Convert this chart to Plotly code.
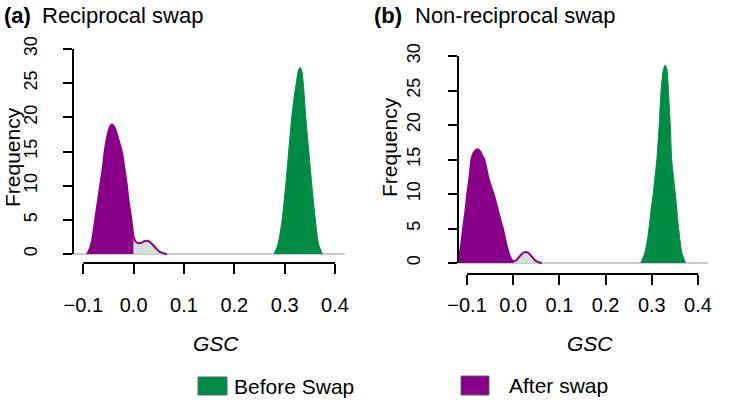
import plotly.graph_objects as go

W, H = 736, 409

# ---------------- data ----------------
panel_titles = ["Reciprocal swap", "Non-reciprocal swap"]
panel_tags = ["(a)", "(b)"]
legend_labels = ["Before Swap", "After swap"]
x_tick_vals = [-0.1, 0.0, 0.1, 0.2, 0.3, 0.4]
x_tick_text = ["\u22120.1", "0.0", "0.1", "0.2", "0.3", "0.4"]
y_tick_vals = [0, 5, 10, 15, 20, 25, 30]

# panel (a) reciprocal swap
a_before_x = [0.279, 0.287, 0.295, 0.302, 0.308, 0.314, 0.319, 0.323, 0.327, 0.331,
              0.334, 0.337, 0.342, 0.348, 0.354, 0.361, 0.367, 0.375]
a_before_y = [0, 1.5, 5, 10, 15, 20, 23, 25, 26.8, 27.3, 26.8, 25, 20, 15, 10, 5, 1.5, 0]
a_after_x = [-0.093, -0.088, -0.083, -0.077, -0.072, -0.067, -0.062, -0.058, -0.052,
             -0.047, -0.043, -0.038, -0.033, -0.028, -0.023, -0.018, -0.013, -0.010,
             -0.004, 0.0]
a_after_y = [0, 0.7, 2, 5, 7.5, 10, 12.5, 15, 17.5, 18.7, 19, 18.6, 17.6, 16.3, 15,
             12.6, 10, 8, 5, 2.5]
a_tail_x = [0.0, 0.004, 0.009, 0.013, 0.018, 0.022, 0.027, 0.031, 0.036, 0.041, 0.046,
            0.051, 0.056, 0.061, 0.066]
a_tail_y = [2.5, 1.8, 1.6, 1.6, 1.75, 1.9, 1.95, 1.8, 1.5, 1.1, 0.7, 0.35, 0.2, 0.08, 0]

# panel (b) non-reciprocal swap
b_before_x = [0.276, 0.285, 0.292, 0.298, 0.303, 0.307, 0.311, 0.316, 0.320, 0.325,
              0.329, 0.333, 0.336, 0.340, 0.343, 0.347, 0.351, 0.358, 0.365, 0.373]
b_before_y = [0, 1.5, 4, 7.5, 10, 12.5, 15, 20, 25, 28, 28.7, 28, 25, 20, 15, 12.5, 10,
              5, 1.5, 0]
b_after_x = [-0.121, -0.117, -0.113, -0.109, -0.104, -0.100, -0.095, -0.091, -0.086,
             -0.081, -0.076, -0.071, -0.066, -0.062, -0.057, -0.052, -0.047, -0.042,
             -0.037, -0.032, -0.027, -0.022, -0.017, -0.012, -0.007, -0.002, 0.002]
b_after_y = [0, 1, 2.8, 5, 7.5, 10, 12.5, 15, 16, 16.4, 16.5, 16.2, 15.5, 15, 13.5, 12,
             11, 10, 8.8, 7.5, 6.2, 5, 3.5, 2.1, 1, 0.4, 0.3]
b_tail_x = [0.002, 0.007, 0.012, 0.017, 0.022, 0.027, 0.032, 0.037, 0.042, 0.047, 0.052,
            0.057, 0.062]
b_tail_y = [0.3, 0.4, 0.8, 1.2, 1.5, 1.6, 1.5, 1.2, 0.8, 0.4, 0.2, 0.08, 0]

# ---------------- styles ----------------
GREEN = "#008B45"
PURPLE = "#880088"
TAIL_FILL = "#D5DED8"
BASE_GRAY = "#CBCBCB"
FONT = "Liberation Sans, Arial, sans-serif"


def px(x):
    return x / W


def py(y):
    return 1 - y / H


fig = go.Figure()

panels = [
    dict(xa="x", ya="y", before=(a_before_x, a_before_y), after=(a_after_x, a_after_y),
         tail=(a_tail_x, a_tail_y)),
    dict(xa="x2", ya="y2", before=(b_before_x, b_before_y), after=(b_after_x, b_after_y),
         tail=(b_tail_x, b_tail_y)),
]

for p in panels:
    fig.add_trace(go.Scatter(x=p["after"][0], y=p["after"][1], xaxis=p["xa"], yaxis=p["ya"],
                             mode="lines", fill="tozeroy", fillcolor=PURPLE,
                             line=dict(color=PURPLE, width=1.5, shape="spline", smoothing=0.6),
                             showlegend=False, hoverinfo="skip"))
    fig.add_trace(go.Scatter(x=p["tail"][0], y=p["tail"][1], xaxis=p["xa"], yaxis=p["ya"],
                             mode="lines", fill="tozeroy", fillcolor=TAIL_FILL,
                             line=dict(color=PURPLE, width=2, shape="spline", smoothing=0.6),
                             showlegend=False, hoverinfo="skip"))
    fig.add_trace(go.Scatter(x=p["before"][0], y=p["before"][1], xaxis=p["xa"], yaxis=p["ya"],
                             mode="lines", fill="tozeroy", fillcolor=GREEN,
                             line=dict(color=GREEN, width=1, shape="spline", smoothing=0.6),
                             showlegend=False, hoverinfo="skip"))

# ---------------- axes geometry (pixel based) ----------------
geo = [
    dict(xl=73, xr=345, xm1=83.3, xp4=335.0, y0=254, y30=49, xaxis_y=263,
         xstand=14, ystand=19),
    dict(xl=458, xr=708, xm1=467.0, xp4=698.0, y0=263, y30=56, xaxis_y=274,
         xstand=3, ystand=21),
]

YMIN = -0.4
for i, g in enumerate(geo):
    k = "" if i == 0 else "2"
    s = (g["xp4"] - g["xm1"]) / 0.5
    xr0 = -0.1 - (g["xm1"] - g["xl"]) / s
    xr1 = 0.4 + (g["xr"] - g["xp4"]) / s
    sy = (g["y0"] - g["y30"]) / 30
    ybot = g["y0"] - YMIN * sy
    fig.layout["xaxis" + k] = dict(
        domain=[px(g["xl"]), px(g["xr"])], range=[xr0, xr1], anchor="free",
        position=py(g["xaxis_y"]), showline=False, showgrid=False, zeroline=False,
        automargin=False, fixedrange=True,
        ticks="outside", ticklen=10, tickwidth=2, tickcolor="black",
        tickvals=x_tick_vals, ticktext=x_tick_text, ticklabelstandoff=g["xstand"],
        tickfont=dict(family=FONT, size=20, color="black"))
    fig.layout["yaxis" + k] = dict(
        domain=[py(ybot), py(g["y30"])], range=[YMIN, 30], anchor="x" + k,
        automargin=False, fixedrange=True,
        showline=False, showgrid=False, zeroline=True, zerolinecolor=BASE_GRAY,
        zerolinewidth=2, ticks="outside", ticklen=9, tickwidth=2, tickcolor="black",
        tickvals=y_tick_vals, tickangle=-90, ticklabelstandoff=g["ystand"],
        tickfont=dict(family=FONT, size=18, color="black"))
    fig.add_shape(type="line", xref="x" + k, yref="paper",
                  x0=x_tick_vals[0], x1=x_tick_vals[-1],
                  y0=py(g["xaxis_y"]), y1=py(g["xaxis_y"]),
                  line=dict(color="black", width=2))
    fig.add_shape(type="line", xref="x" + k + " domain", yref="y" + k,
                  x0=0, x1=0, y0=y_tick_vals[0], y1=y_tick_vals[-1],
                  line=dict(color="black", width=2))

annotations = []
title_pos = [(2, 40, 15), (372, 413, 15)]
for i, (xt, xs, yc) in enumerate(title_pos):
    annotations.append(dict(text="<b>" + panel_tags[i] + "</b>", x=px(xt), y=py(yc),
                            xref="paper", yref="paper", xanchor="left", yanchor="middle",
                            showarrow=False, font=dict(family=FONT, size=22, color="black")))
    annotations.append(dict(text=panel_titles[i], x=px(xs), y=py(yc),
                            xref="paper", yref="paper", xanchor="left", yanchor="middle",
                            showarrow=False, font=dict(family=FONT, size=22, color="black")))
for xc, yc in [(216, 343), (590, 343)]:
    annotations.append(dict(text="<i>GSC</i>", x=px(xc), y=py(yc), xref="paper", yref="paper",
                            xanchor="center", yanchor="middle", showarrow=False,
                            font=dict(family=FONT, size=21, color="black")))
for xc, yc in [(12, 157), (389, 147)]:
    annotations.append(dict(text="Frequency", x=px(xc), y=py(yc), xref="paper", yref="paper",
                            xanchor="center", yanchor="middle", showarrow=False, textangle=-90,
                            font=dict(family=FONT, size=21, color="black")))

legend_items = [(GREEN, (198, 227, 377, 395), 232), (PURPLE, (461, 489, 376, 395), 507)]
for (col, (x0, x1, y0, y1), tx), lab in zip(legend_items, legend_labels):
    fig.add_shape(type="rect", xref="paper", yref="paper", x0=px(x0), x1=px(x1),
                  y0=py(y1), y1=py(y0), fillcolor=col, line=dict(color="#4F6678", width=1))
    annotations.append(dict(text=lab, x=px(tx), y=py((y0 + y1) / 2), xref="paper",
                            yref="paper", xanchor="left", yanchor="middle", showarrow=False,
                            font=dict(family=FONT, size=21, color="black")))

fig.update_layout(width=W, height=H, margin=dict(l=0, r=0, t=0, b=0, pad=0),
                  paper_bgcolor="white", plot_bgcolor="white", showlegend=False,
                  annotations=annotations, font=dict(family=FONT))

fig.write_html("out.html", config={"displayModeBar": False},
               post_script="document.body.style.margin='0px';")
